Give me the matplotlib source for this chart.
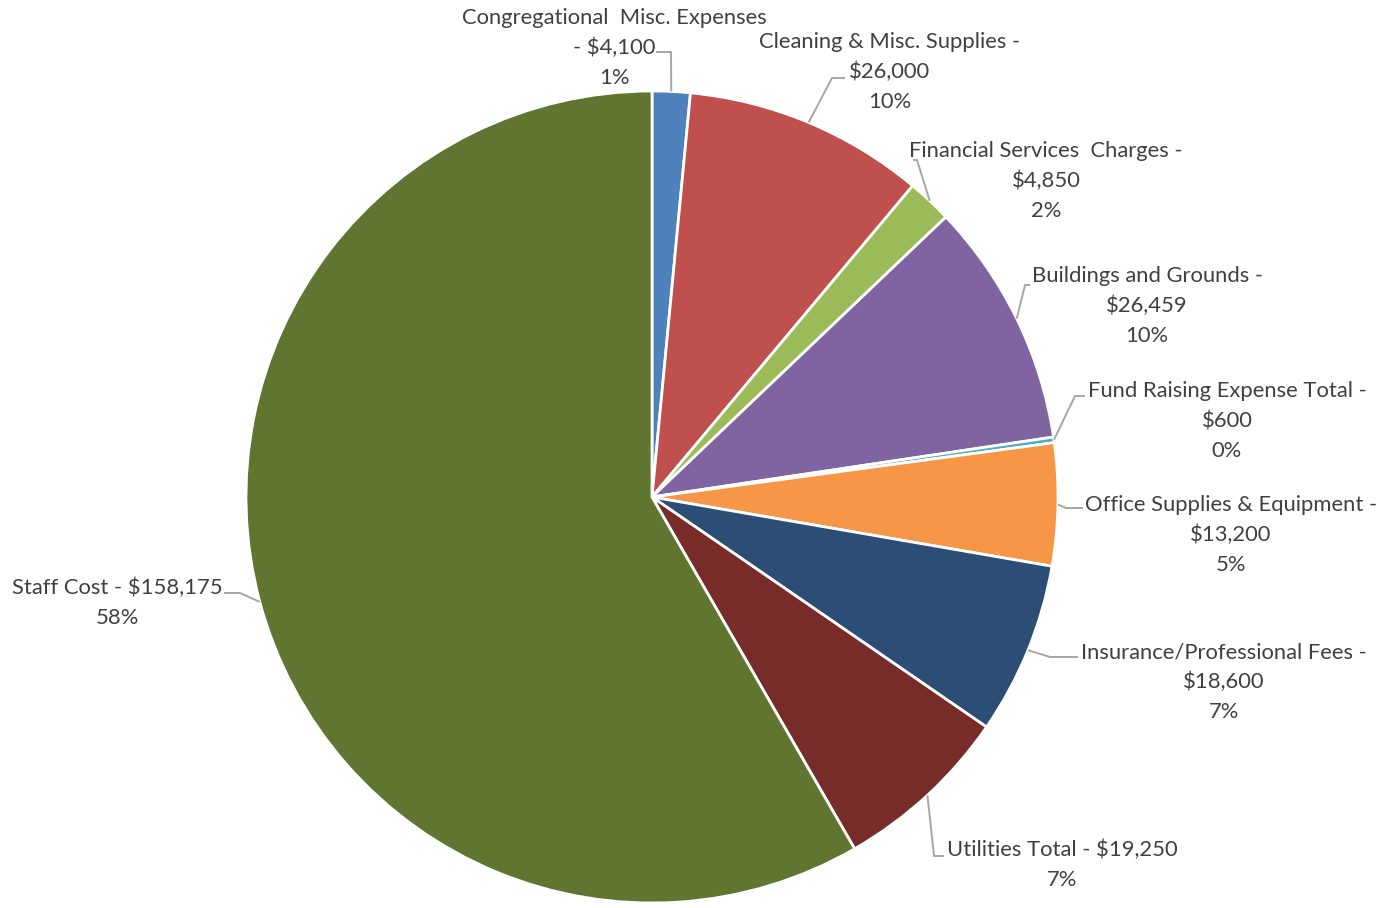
import matplotlib
matplotlib.use("Agg")
import matplotlib.pyplot as plt
import numpy as np

# Gider kalemleri (saat yönünde, tepeden başlayarak)
names = ["Congregational  Misc. Expenses", "Cleaning & Misc. Supplies",
         "Financial Services  Charges", "Buildings and Grounds",
         "Fund Raising Expense Total", "Office Supplies & Equipment",
         "Insurance/Professional Fees", "Utilities Total", "Staff Cost"]
amounts = [4100, 26000, 4850, 26459, 600, 13200, 18600, 19250, 158175]
pct_labels = ["1%", "10%", "2%", "10%", "0%", "5%", "7%", "7%", "58%"]
label_texts = [
    "Congregational  Misc. Expenses\n- $4,100\n1%",
    "Cleaning & Misc. Supplies -\n$26,000\n10%",
    "Financial Services  Charges -\n$4,850\n2%",
    "Buildings and Grounds -\n$26,459\n10%",
    "Fund Raising Expense Total -\n$600\n0%",
    "Office Supplies & Equipment -\n$13,200\n5%",
    "Insurance/Professional Fees -\n$18,600\n7%",
    "Utilities Total - $19,250\n7%",
    "Staff Cost - $158,175\n58%",
]
colors = ["#4F81BD", "#C0504D", "#9BBB59", "#8064A2", "#4BACC6",
          "#F79646", "#2C4D75", "#772C2A", "#5F7530"]

W, H = 1384, 908

def px(x, y):
    # piksel koordinatından veri koordinatına
    return x, H - y

# etiket yerleşimi (piksel): metin merkezi, dirsek, bağlantı noktası
label_pos = [(614, 48), (890, 72), (1046, 181), (1147, 306), (1227, 421),
             (1231, 535), (1224, 682), (1062, 865), (117, 603)]
elbows = [(671, 52), (832, 78), (917, 160), (1025, 285), (1075, 396),
          (1066, 508), (1050, 657), (934, 856), (240, 593)]
attach = [(656, 52), (845, 78), (913, 160), (1030, 285), (1085, 396),
          (1083, 508), (1078, 657), (944, 856), (224, 593)]

fig = plt.figure(figsize=(W / 100, H / 100), dpi=100)
ax = fig.add_axes([0, 0, 1, 1])

cx, cy = px(652, 497)
radius = 406
wedges, _ = ax.pie(amounts, colors=colors, startangle=90, counterclock=False,
                   center=(cx, cy), radius=radius, frame=True,
                   wedgeprops=dict(edgecolor="white", linewidth=2))
ax.set_xlim(0, W)
ax.set_ylim(0, H)
ax.axis("off")

for i, w in enumerate(wedges):
    mid = np.deg2rad((w.theta1 + w.theta2) / 2)
    ex = cx + radius * np.cos(mid)
    ey = cy + radius * np.sin(mid)
    bx, by = px(*elbows[i])
    ax_, ay_ = px(*attach[i])
    ax.plot([ex, bx, ax_], [ey, by, ay_], color="#A6A6A6", lw=1.4,
            solid_capstyle="butt", zorder=3)
    tx, ty = px(*label_pos[i])
    ax.text(tx, ty, label_texts[i], ha="center", va="center",
            multialignment="center", fontsize=15.8, family="Lato",
            color="#404040", linespacing=1.6)

fig.savefig("out.png", dpi=100)
